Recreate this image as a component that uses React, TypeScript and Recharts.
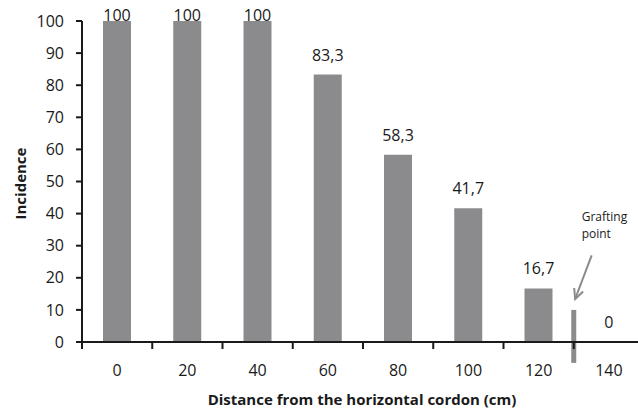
import React from 'react'
import {
  BarChart, Bar, XAxis, YAxis, LabelList, ReferenceLine, ReferenceDot
} from 'recharts'

// distance from the horizontal cordon (cm) and incidence (%)
const distances = [0, 20, 40, 60, 80, 100, 120, 140]
const incidence = [100, 100, 100, 83.3, 58.3, 41.7, 16.7, 0]
const barLabels = ['100', '100', '100', '83,3', '58,3', '41,7', '16,7', '0']

const yTicks = [0, 10, 20, 30, 40, 50, 60, 70, 80, 90, 100]
// odd tens are the tick marks between the bars, even tens carry the labels
const xTicks = [-10, 0, 10, 20, 30, 40, 50, 60, 70, 80, 90, 100, 110, 120, 130, 140]

// grafting point marker and the arrow pointing at it (axis units)
const graftMarker = [{ x: 130, y: -6.5 }, { x: 130, y: 10 }]
const graftArrow = [{ x: 135.1, y: 27 }, { x: 130.4, y: 13.4 }]

const data = distances.map((d, i) => ({ d, v: incidence[i], label: barLabels[i] }))

const FONT = '"Open Sans", sans-serif'
const INK = '#1a1a1a'
const BAR = '#8b8b8e'

const XTick = ({ x, y, payload }: any) => {
  const v = payload.value as number
  if ((v + 10) % 20 === 0) {
    return <line x1={x} x2={x} y1={y} y2={y + 7} stroke={INK} strokeWidth={2} />
  }
  return (
    <text x={x} y={y + 34} textAnchor="middle" fontFamily={FONT} fontSize={16} fill={INK}>
      {v}
    </text>
  )
}

const ValueText = ({ cx, top, text }: any) => (
  <text x={cx} y={Math.max(top - 14, 21)} textAnchor="middle" fontFamily={FONT} fontSize={16} fill={INK}>
    {text}
  </text>
)

const BarLabel = ({ x, y, width, index }: any) => {
  if (!incidence[index]) return null
  return <ValueText cx={x + width / 2} top={y} text={barLabels[index]} />
}

const Arrow = ({ x1, y1, x2, y2 }: any) => {
  const ang = Math.atan2(y2 - y1, x2 - x1)
  const len = 11
  const spread = 0.45
  const ax = x2 - len * Math.cos(ang - spread)
  const ay = y2 - len * Math.sin(ang - spread)
  const bx = x2 - len * Math.cos(ang + spread)
  const by = y2 - len * Math.sin(ang + spread)
  return (
    <g>
      <line x1={x1} y1={y1} x2={x2} y2={y2} stroke="#8a8a8a" strokeWidth={2} />
      <polyline points={`${ax},${ay} ${x2},${y2} ${bx},${by}`} fill="none" stroke="#8a8a8a" strokeWidth={2} />
      <text x={x1 - 10} y={y1 - 34} fontFamily={FONT} fontSize={12} fill={INK}>Grafting</text>
      <text x={x1 - 10} y={y1 - 17} fontFamily={FONT} fontSize={12} fill={INK}>point</text>
    </g>
  )
}

export default function App() {
  return (
    <div style={{ position: 'absolute', left: 0, top: 0, width: 638, height: 411, overflow: 'hidden', background: '#fff' }}>
      <BarChart width={650} height={411} data={data} margin={{ top: 21, right: 6, left: 0, bottom: 0 }}>
        <XAxis
          dataKey="d"
          type="number"
          domain={[-10, 150]}
          ticks={xTicks}
          interval={0}
          height={69}
          tickSize={0}
          tickMargin={0}
          tickLine={false}
          tick={<XTick />}
          axisLine={{ stroke: INK, strokeWidth: 2 }}
          label={({ viewBox }: any) => (
            <text x={362} y={viewBox.y + 63} textAnchor="middle" fontFamily={FONT} fontSize={15} fontWeight="bold" fill={INK}>
              Distance from the horizontal cordon (cm)
            </text>
          )}
        />
        <YAxis
          domain={[0, 100]}
          ticks={yTicks}
          interval={0}
          width={82}
          tickSize={6}
          tickMargin={12}
          tick={{ fontFamily: FONT, fontSize: 16, fill: INK }}
          tickLine={{ stroke: INK, strokeWidth: 2 }}
          axisLine={{ stroke: INK, strokeWidth: 2 }}
          label={({ viewBox }: any) => {
            const cy = viewBox.y + viewBox.height / 2 + 2
            return (
              <text x={20} y={cy} transform={`rotate(-90 20 ${cy})`} textAnchor="middle" dominantBaseline="central"
                fontFamily={FONT} fontSize={15} fontWeight="bold" fill={INK}>
                Incidence
              </text>
            )
          }}
        />
        <Bar dataKey="v" fill={BAR} barSize={28} isAnimationActive={false}>
          <LabelList dataKey="label" content={<BarLabel />} />
        </Bar>
        {data.filter(p => p.v === 0).map(p => (
          <ReferenceDot
            key={p.d}
            x={p.d}
            y={p.v}
            r={0}
            ifOverflow="visible"
            shape={({ cx, cy }: any) => <ValueText cx={cx} top={cy} text={p.label} />}
          />
        ))}
        <ReferenceLine segment={graftMarker} ifOverflow="visible" stroke={BAR} strokeWidth={5} />
        <ReferenceLine segment={graftArrow} ifOverflow="visible" shape={<Arrow />} />
      </BarChart>
    </div>
  )
}
